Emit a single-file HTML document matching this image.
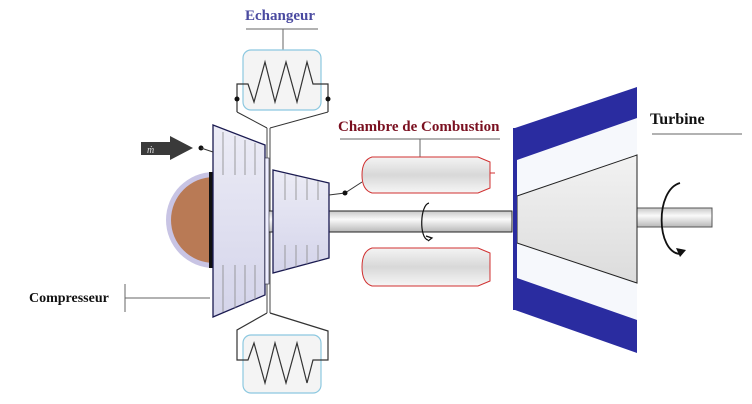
<!DOCTYPE html>
<html><head><meta charset="utf-8"><style>
html,body{margin:0;padding:0;background:#fff;width:752px;height:404px;overflow:hidden}
</style></head><body>
<svg width="752" height="404" viewBox="0 0 752 404" xmlns="http://www.w3.org/2000/svg" font-family="Liberation Serif, serif">
<defs>
<linearGradient id="sh" x1="0" y1="0" x2="0" y2="1"><stop offset="0" stop-color="#c8c8c8"/><stop offset="0.4" stop-color="#fafafa"/><stop offset="1" stop-color="#b8b8b8"/></linearGradient>
<linearGradient id="cc" x1="0" y1="0" x2="0" y2="1"><stop offset="0" stop-color="#f4f4f4"/><stop offset="0.5" stop-color="#d8d8d8"/><stop offset="1" stop-color="#f6f6f6"/></linearGradient>
<linearGradient id="cp" x1="0" y1="0" x2="0" y2="1"><stop offset="0" stop-color="#ececf6"/><stop offset="1" stop-color="#d4d4ea"/></linearGradient>
<linearGradient id="cone" x1="0" y1="0" x2="0" y2="1"><stop offset="0" stop-color="#f2f2f2"/><stop offset="1" stop-color="#dcdcdc"/></linearGradient>
</defs>
<text x="245" y="20" font-size="15" font-weight="bold" fill="#4a4aa0">Echangeur</text>
<line x1="246" y1="29" x2="318" y2="29" stroke="#666"/>
<line x1="283" y1="29" x2="283" y2="50" stroke="#666"/>
<text x="338" y="131" font-size="15" font-weight="bold" fill="#7a1020">Chambre de Combustion</text>
<line x1="340" y1="139" x2="500" y2="139" stroke="#666"/>
<line x1="420" y1="139" x2="420" y2="157" stroke="#666"/>
<text x="650" y="124" font-size="16" font-weight="bold" fill="#111">Turbine</text>
<line x1="652" y1="134" x2="742" y2="134" stroke="#666"/>
<text x="29" y="302" font-size="14" font-weight="bold" fill="#111">Compresseur</text>
<line x1="125" y1="284" x2="125" y2="312" stroke="#666"/>
<line x1="125" y1="298" x2="210" y2="298" stroke="#666"/>
<rect x="243" y="50" width="78" height="60" rx="8" fill="#f4f4f4" stroke="#8cc8e0" stroke-width="1.2"/>
<polyline points="237,112 237,84 248,84 254,102 265,62 275,102 286,62 297,102 307,62 313,84 328,84 328,112" fill="none" stroke="#333" stroke-width="1.2"/>
<polyline points="237,112 267,128" fill="none" stroke="#333"/>
<polyline points="328,112 270,128" fill="none" stroke="#333"/>
<line x1="267" y1="128" x2="267" y2="313" stroke="#444"/><line x1="270" y1="128" x2="270" y2="313" stroke="#444"/>
<circle cx="237" cy="99" r="2.5" fill="#111"/><circle cx="328" cy="99" r="2.5" fill="#111"/>
<rect x="243" y="335" width="78" height="58" rx="8" fill="#f4f4f4" stroke="#8cc8e0" stroke-width="1.2"/>
<polyline points="267,313 237,330 237,360 248,360 254,343 265,383 275,343 286,383 297,343 307,383 313,360 328,360 328,331 270,313" fill="none" stroke="#333" stroke-width="1.2"/>
<rect x="262" y="211" width="250" height="21" fill="url(#sh)" stroke="#222" stroke-width="1"/>
<rect x="636" y="208" width="76" height="19" fill="url(#sh)" stroke="#555"/>
<circle cx="214" cy="220" r="48" fill="#c8c4e4"/>
<circle cx="214" cy="220" r="43" fill="#b97a55"/>
<rect x="209" y="172" width="6" height="96" fill="#111"/>
<polygon points="213,125 265,145 265,295 213,317" fill="url(#cp)" stroke="#1a1a50" stroke-width="1.3"/>
<rect x="265" y="158" width="4" height="126" fill="#eef" stroke="#223" stroke-width="0.6"/>
<g stroke="#888" stroke-width="0.8">
<line x1="223" y1="132" x2="223" y2="175"/><line x1="235" y1="136" x2="235" y2="175"/><line x1="245" y1="140" x2="245" y2="175"/><line x1="255" y1="143" x2="255" y2="175"/>
<line x1="223" y1="265" x2="223" y2="312"/><line x1="235" y1="265" x2="235" y2="308"/><line x1="245" y1="265" x2="245" y2="304"/><line x1="255" y1="265" x2="255" y2="300"/>
</g>
<polygon points="273,170 329,183 329,258 273,273" fill="url(#cp)" stroke="#1a1a50" stroke-width="1.3"/>
<g stroke="#888" stroke-width="0.8">
<line x1="285" y1="174" x2="285" y2="200"/><line x1="296" y1="176" x2="296" y2="200"/><line x1="307" y1="179" x2="307" y2="200"/><line x1="318" y1="181" x2="318" y2="200"/>
<line x1="285" y1="245" x2="285" y2="270"/><line x1="296" y1="245" x2="296" y2="267"/><line x1="307" y1="245" x2="307" y2="264"/><line x1="318" y1="245" x2="318" y2="261"/>
</g>
<polyline points="329,195 345,193 362,182" fill="none" stroke="#333"/>
<circle cx="345" cy="193" r="2.5" fill="#111"/>
<path d="M372,157 L478,157 L490,162 L490,188 L478,193 L372,193 Q362,190 362,175 Q362,160 372,157 Z" fill="url(#cc)" stroke="#d03030"/>
<line x1="490" y1="173" x2="495" y2="173" stroke="#d03030"/>
<path d="M372,248 L478,248 L490,253 L490,281 L478,286 L372,286 Q362,283 362,267 Q362,251 372,248 Z" fill="url(#cc)" stroke="#d03030"/>
<path d="M429,203 C420,205 419,238 428,240" fill="none" stroke="#111" stroke-width="1.2"/>
<path d="M426,236 L432,238 L428,241" fill="none" stroke="#111" stroke-width="1.2"/>
<path d="M680,183 C655,190 656,252 680,254" fill="none" stroke="#111" stroke-width="1.8"/>
<polygon points="676,248 686,250 680,257" fill="#111"/>
<polygon points="515,128 637,87 637,353 515,310" fill="#2a2ca0"/>
<polygon points="517,160 637,118 637,320 517,278" fill="#f6f8fc"/>
<polygon points="517,196 637,155 637,283 517,243" fill="url(#cone)" stroke="#222" stroke-width="1"/>
<rect x="513" y="128" width="4" height="182" fill="#2a2ca0"/>
<polygon points="141,142 170,142 170,136 193,148 170,160 170,155 141,155" fill="#3a3a3a"/>
<text x="147" y="153" font-size="10" font-style="italic" fill="#ddd">ṁ</text>
<circle cx="201" cy="148" r="2.5" fill="#111"/>
<line x1="201" y1="148" x2="213" y2="152" stroke="#333"/>
</svg>
</body></html>
